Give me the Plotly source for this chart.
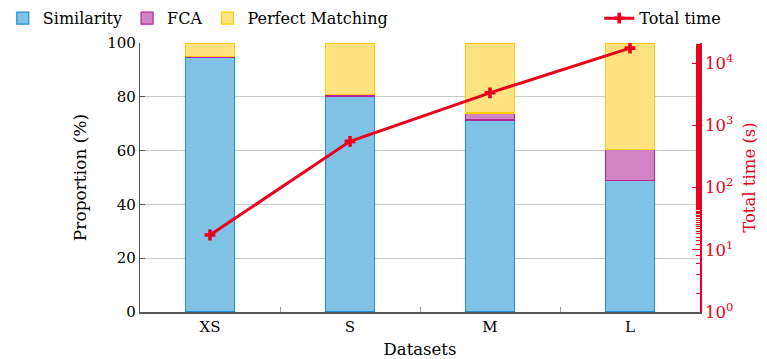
import plotly.graph_objects as go

datasets = ["XS", "S", "M", "L"]
similarity = [94.6, 80.3, 71.4, 49.0]
fca = [0.5, 0.7, 2.6, 11.3]
perfect_matching = [4.9, 19.0, 26.0, 39.7]
total_time = [17.3, 555, 3350, 17500]

right_tickvals = [1, 10, 100, 1000, 10000]
right_ticktext = ["10<sup>0</sup>", "10<sup>1</sup>", "10<sup>2</sup>", "10<sup>3</sup>", "10<sup>4</sup>"]

RED = "#e8001c"
FONT = "DejaVu Serif"

fig = go.Figure()
fig.add_trace(go.Bar(x=datasets, y=similarity, name="Similarity",
                     marker=dict(color="#80c1e6", line=dict(color="#1f8fd8", width=1.2)),
                     width=0.35, legend="legend"))
fig.add_trace(go.Bar(x=datasets, y=fca, name="FCA",
                     marker=dict(color="#d283c3", line=dict(color="#b3259a", width=1.2)),
                     width=0.35, legend="legend"))
fig.add_trace(go.Bar(x=datasets, y=perfect_matching, name="Perfect Matching",
                     marker=dict(color="#ffe380", line=dict(color="#ffcc00", width=1.2)),
                     width=0.35, legend="legend"))
fig.add_trace(go.Scatter(x=datasets, y=total_time, name="Total time", yaxis="y2",
                         mode="lines+markers",
                         line=dict(color=RED, width=3),
                         marker=dict(symbol="cross", size=9, color=RED),
                         legend="legend2"))

fig.update_layout(
    width=759, height=351,
    margin=dict(l=132, r=67, t=35, b=47, autoexpand=False),
    barmode="stack",
    plot_bgcolor="white", paper_bgcolor="white",
    font=dict(family=FONT, size=15, color="black"),
    showlegend=True,
    legend=dict(orientation="h", x=-0.245, y=1.155, xanchor="left", yanchor="top",
                bgcolor="rgba(0,0,0,0)", font=dict(family=FONT, size=16, color="black"),
                itemwidth=30, tracegroupgap=0, traceorder="normal"),
    legend2=dict(orientation="h", x=0.82, y=1.155, xanchor="left", yanchor="top",
                 bgcolor="rgba(0,0,0,0)", font=dict(family=FONT, size=16, color="black"),
                 itemwidth=30),
    xaxis=dict(
        type="category", tickson="boundaries", ticks="inside", ticklen=5,
        tickcolor="#999999", showgrid=False, showline=True, linecolor="#555555",
        linewidth=1.5, title=dict(text="Datasets", standoff=9, font=dict(family=FONT, size=16.5)),
        tickfont=dict(family=FONT, size=15), range=[-0.5, 3.5],
    ),
    yaxis=dict(
        range=[0, 100], tickvals=[0, 20, 40, 60, 80, 100], ticks="inside",
        ticklen=5, tickcolor="#555555", showline=True, linecolor="#555555",
        linewidth=1.2, showgrid=True, gridcolor="#c8c8c8", gridwidth=1,
        zeroline=False, title=dict(text="Proportion (%)", standoff=16, font=dict(family=FONT, size=17)),
        tickfont=dict(family=FONT, size=15),
    ),
    yaxis2=dict(
        type="log", range=[0, 4.326], overlaying="y", side="right",
        tickvals=right_tickvals, ticktext=right_ticktext,
        ticks="inside", ticklen=8, tickcolor=RED, tickwidth=1.2,
        minor=dict(ticks="inside", ticklen=4, tickcolor=RED, tickwidth=0.8, showgrid=False),
        showline=True, linecolor=RED, linewidth=1.5, showgrid=False,
        zeroline=False, color=RED,
        title=dict(text="Total time (s)", font=dict(family=FONT, color=RED, size=16.5), standoff=11),
        tickfont=dict(family=FONT, color=RED, size=16.5),
    ),
)

fig.write_html("out.html")
